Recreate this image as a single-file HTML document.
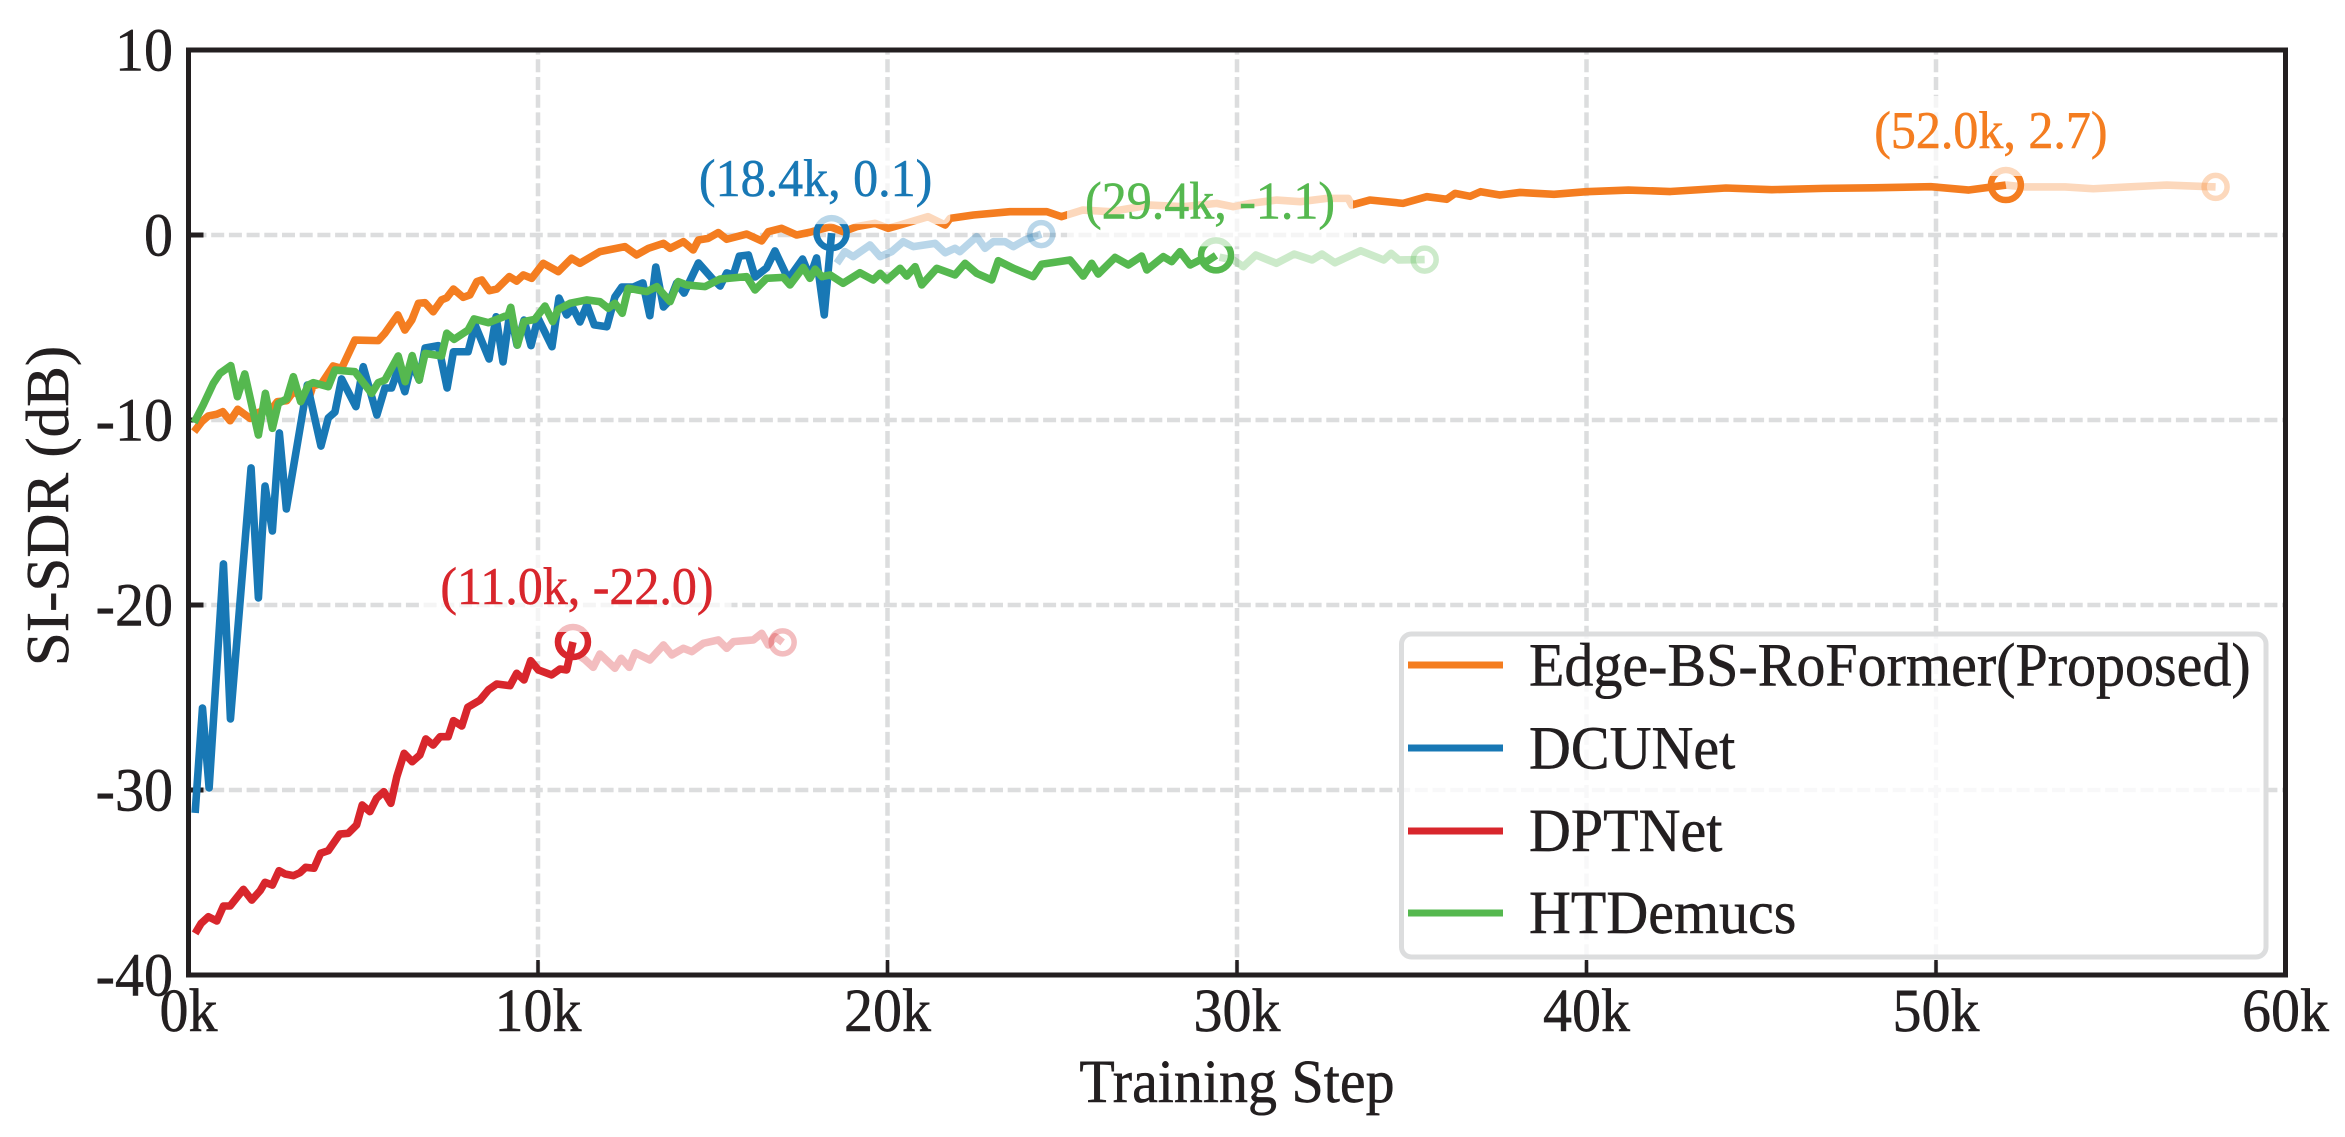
<!DOCTYPE html>
<html lang="en">
<head>
<meta charset="utf-8">
<title>SI-SDR vs Training Step</title>
<style>
  html, body { margin: 0; padding: 0; background: #fff; }
  body { width: 2345px; height: 1137px; overflow: hidden; }
  svg { display: block; font-family: "Liberation Serif", "Times New Roman", serif; text-rendering: geometricPrecision; }
  text { stroke-width: 0.5px; }
</style>
</head>
<body>
<svg id="chart" xmlns="http://www.w3.org/2000/svg" width="2345" height="1137" viewBox="0 0 2345 1137">
  <rect x="0" y="0" width="2345" height="1137" fill="#ffffff"/>
  <g id="grid"></g>
  <g id="ticks"></g>
  <g id="series"></g>
  <rect x="188.5" y="50" width="2097" height="925" fill="none" stroke="#231f20" stroke-width="5"/>
  <g id="annotations"></g>
  <g id="tick-labels" fill="#231f20" stroke="#231f20" font-size="58"></g>
  <text transform="translate(1237 1102) scale(1 1.06)" text-anchor="middle" font-size="58" fill="#231f20" stroke="#231f20">Training Step</text>
  <text transform="translate(68 506) rotate(-90)" text-anchor="middle" font-size="61" fill="#231f20" stroke="#231f20">SI-SDR (dB)</text>
  <g id="legend">
    <rect x="1401.5" y="634" width="864.5" height="323" rx="10" ry="10" fill="#ffffff" fill-opacity="0.8" stroke="#dcddde" stroke-width="5"/>
    <line x1="1408" x2="1503" y1="665" y2="665" stroke="#f47d20" stroke-width="7"/>
    <text transform="translate(1529 685.5) scale(1 1.06)" font-size="58" fill="#231f20" stroke="#231f20">Edge-BS-RoFormer(Proposed)</text>
    <line x1="1408" x2="1503" y1="748" y2="748" stroke="#1878b5" stroke-width="7"/>
    <text transform="translate(1529 768.5) scale(1 1.06)" font-size="58" fill="#231f20" stroke="#231f20">DCUNet</text>
    <line x1="1408" x2="1503" y1="831" y2="831" stroke="#d8262c" stroke-width="7"/>
    <text transform="translate(1529 851) scale(1 1.06)" font-size="58" fill="#231f20" stroke="#231f20">DPTNet</text>
    <line x1="1408" x2="1503" y1="913" y2="913" stroke="#55b84f" stroke-width="7"/>
    <text transform="translate(1529 933) scale(1 1.06)" font-size="58" fill="#231f20" stroke="#231f20">HTDemucs</text>
  </g>
</svg>
<script>
const xTickValues = [0, 10, 20, 30, 40, 50, 60];
const xTickLabels = ["0k", "10k", "20k", "30k", "40k", "50k", "60k"];
const yTickValues = [10, 0, -10, -20, -30, -40];
const yTickLabels = ["10", "0", "-10", "-20", "-30", "-40"];

const edgeSteps = [0.16,0.38,0.57,0.81,0.98,1.19,1.41,1.76,1.97,2.43,2.54,2.81,3.0,3.43,3.56,3.81,4.14,4.38,4.76,5.43,5.62,5.99,6.19,6.39,6.58,6.77,7.0,7.24,7.39,7.58,7.86,8.05,8.25,8.39,8.61,8.82,9.18,9.39,9.58,9.82,10.15,10.58,10.96,11.2,11.77,12.49,12.82,13.16,13.59,13.78,14.16,14.44,14.59,14.87,15.16,15.4,15.97,16.4,16.59,16.97,17.4,17.78,18.36,18.73,19.12,19.64,20.02,20.36,21.16,21.65,21.79,22.46,23.5,24.56,24.98,25.59,26.37,27.51,28.46,29.42,29.89,30.38,31.14,31.81,32.57,33.18,33.28,33.8,34.75,35.43,36.0,36.24,36.67,36.97,37.52,38.1,39.07,40.0,41.2,42.4,43.99,45.3,46.78,48.2,49.85,50.94,52.0];
const edgeValues = [-10.63,-10.09,-9.78,-9.69,-9.55,-10.04,-9.42,-9.91,-9.62,-9.28,-9.01,-8.96,-8.47,-8.92,-8.16,-8.02,-7.08,-7.21,-5.68,-5.71,-5.31,-4.32,-5.14,-4.59,-3.69,-3.66,-4.15,-3.51,-3.39,-2.92,-3.37,-3.24,-2.52,-2.43,-3.01,-2.92,-2.25,-2.49,-2.16,-2.34,-1.53,-1.98,-1.26,-1.53,-0.9,-0.63,-1.08,-0.72,-0.45,-0.72,-0.36,-0.81,-0.27,-0.18,0.13,-0.23,0.05,-0.32,0.18,0.36,0,0.15,0.45,0.18,0.45,0.63,0.36,0.54,0.99,0.54,0.9,1.08,1.26,1.26,0.99,1.35,1.26,1.62,1.53,1.71,1.53,1.71,1.89,1.8,1.98,1.98,1.62,1.89,1.71,2.07,1.93,2.25,2.09,2.34,2.16,2.3,2.2,2.34,2.43,2.35,2.54,2.45,2.52,2.55,2.61,2.43,2.7];
const edgeFadeSteps = [52.0,52.5,53.7,54.5,55.5,56.6,58.0];
const edgeFadeValues = [2.7,2.6,2.6,2.5,2.6,2.7,2.6];

const dcuSteps = [0.19,0.4,0.59,1.0,1.2,1.79,2.0,2.19,2.4,2.6,2.8,3.4,3.79,4.0,4.19,4.38,4.79,5.0,5.39,5.62,5.81,5.99,6.19,6.39,6.6,6.77,7.15,7.4,7.58,8.0,8.2,8.6,8.8,9.0,9.2,9.4,9.6,9.8,10.0,10.4,10.6,10.82,11.0,11.2,11.4,11.61,11.97,12.2,12.4,12.73,13.0,13.2,13.37,13.59,13.78,13.97,14.18,14.59,14.97,15.21,15.4,15.59,15.76,16.02,16.21,16.54,16.78,17.16,17.57,17.78,17.97,18.19,18.4];
const dcuValues = [-31.24,-25.57,-29.89,-17.78,-26.16,-12.59,-19.62,-13.57,-16.0,-10.7,-14.81,-8.11,-11.41,-9.89,-9.57,-7.78,-9.28,-7.12,-9.73,-8.27,-8.27,-7.3,-8.47,-6.92,-7.84,-6.11,-5.98,-8.27,-6.31,-6.31,-4.86,-6.7,-4.42,-6.86,-4.11,-5.95,-4.6,-5.98,-4.49,-6.04,-3.41,-4.32,-3.95,-4.7,-3.78,-4.86,-4.96,-3.35,-2.81,-2.81,-2.59,-4.36,-1.73,-3.89,-3.51,-2.59,-3.14,-1.51,-2.32,-2.76,-2.05,-2.16,-1.14,-1.08,-2.27,-1.78,-0.86,-2.38,-1.3,-2.27,-1.24,-4.32,0.1];
const dcuFadeSteps = [18.55,18.78,19.02,19.5,19.79,20.12,20.45,20.74,21.36,21.65,21.93,22.07,22.55,22.79,23.03,23.36,23.6,23.93,24.4];
const dcuFadeValues = [-1.53,-0.9,-1.17,-0.54,-1.17,-0.9,-0.36,-0.63,-0.45,-0.96,-0.72,-0.9,-0.09,-0.72,-0.36,-0.36,-0.63,-0.27,0.05];

const dptSteps = [0.19,0.36,0.57,0.81,1.0,1.19,1.57,1.81,2.05,2.19,2.4,2.59,2.76,3.0,3.19,3.35,3.59,3.78,4.0,4.33,4.57,4.81,4.97,5.19,5.38,5.59,5.79,5.96,6.17,6.4,6.62,6.79,7.0,7.2,7.43,7.58,7.82,7.99,8.34,8.58,8.82,9.2,9.39,9.6,9.79,10.01,10.39,10.63,10.82,11.0];
const dptValues = [-37.75,-37.21,-36.85,-37.08,-36.27,-36.27,-35.37,-35.95,-35.44,-34.99,-35.14,-34.36,-34.54,-34.63,-34.47,-34.18,-34.23,-33.42,-33.28,-32.38,-32.34,-31.89,-30.81,-31.17,-30.45,-30.09,-30.72,-29.28,-28.02,-28.47,-28.11,-27.24,-27.57,-27.12,-27.12,-26.25,-26.54,-25.53,-25.14,-24.59,-24.27,-24.36,-23.69,-24.05,-23.01,-23.51,-23.78,-23.46,-23.51,-22.0];
const dptFadeSteps = [11.15,11.35,11.58,11.77,12.2,12.38,12.61,12.78,13.2,13.59,13.83,14.16,14.4,14.73,15.16,15.4,15.59,16.16,16.4,16.59,16.78,17.0];
const dptFadeValues = [-22.7,-22.97,-23.37,-22.65,-23.42,-22.88,-23.37,-22.58,-22.97,-22.16,-22.7,-22.34,-22.52,-22.07,-21.89,-22.34,-21.98,-21.89,-21.53,-22.16,-21.71,-22.02];

const htdSteps = [0.16,0.42,0.71,0.9,1.21,1.4,1.61,2.0,2.2,2.4,2.57,2.81,3.0,3.21,3.43,3.57,4.0,4.19,4.76,5.24,5.43,5.62,6.0,6.2,6.4,6.6,6.77,7.24,7.39,7.6,8.0,8.17,8.58,9.15,9.22,9.41,9.6,9.91,10.2,10.42,10.58,10.92,11.39,11.77,12.01,12.2,12.41,12.58,13.11,13.4,13.78,14.01,14.25,14.78,15.21,15.97,16.21,16.54,17.02,17.21,17.59,17.78,17.93,18.12,18.36,18.73,19.21,19.59,19.79,19.98,20.36,20.55,20.79,20.98,21.41,21.93,22.22,22.55,22.98,23.17,23.6,24.17,24.41,25.22,25.6,25.84,26.03,26.51,26.89,27.27,27.42,27.89,28.13,28.37,28.66,28.94,29.13,29.4];
const htdValues = [-10.14,-9.19,-8.02,-7.48,-7.06,-8.74,-7.51,-10.81,-8.56,-10.45,-9.1,-8.86,-7.66,-9.01,-8.11,-7.98,-8.2,-7.3,-7.39,-8.56,-7.98,-7.84,-6.54,-7.93,-6.52,-7.84,-6.4,-6.54,-5.31,-5.64,-5.14,-4.54,-4.74,-4.32,-3.91,-5.95,-4.68,-4.56,-3.84,-4.68,-4.02,-3.69,-3.51,-3.6,-3.96,-3.69,-4.23,-2.88,-3.06,-2.79,-3.6,-2.52,-2.7,-2.79,-2.38,-2.25,-2.97,-2.34,-2.29,-2.7,-1.75,-2.34,-1.85,-2.25,-2.16,-2.61,-2.04,-2.43,-2.07,-2.43,-1.8,-2.22,-1.71,-2.7,-1.8,-2.16,-1.53,-2.07,-2.43,-1.39,-1.8,-2.25,-1.58,-1.35,-2.22,-1.53,-2.11,-1.21,-1.62,-1.14,-1.89,-1.17,-1.44,-0.9,-1.62,-1.35,-1.44,-1.1];
const htdFadeSteps = [29.5,29.89,30.18,30.54,31.13,31.64,32.15,32.43,32.8,33.54,34.2,34.41,34.63,35.37];
const htdFadeValues = [-1.2,-1.35,-1.71,-1.08,-1.53,-1.03,-1.35,-1.03,-1.5,-0.85,-1.35,-0.99,-1.35,-1.33];

const annotationLabels = ["(52.0k, 2.7)", "(18.4k, 0.1)", "(11.0k, -22.0)", "(29.4k, -1.1)"];

const SVGNS = "http://www.w3.org/2000/svg";
const plotLeft = 188.5, plotRight = 2285.5, plotTop = 50, plotBottom = 975;
const xMin = 0, xMax = 60, yMin = -40, yMax = 10;
const lineWidth = 7.6;
const textStretch = 1.06;
function xScale(v) { return plotLeft + (v - xMin) / (xMax - xMin) * (plotRight - plotLeft); }
function yScale(v) { return plotBottom - (v - yMin) / (yMax - yMin) * (plotBottom - plotTop); }
function make(tag, attrs) {
  const el = document.createElementNS(SVGNS, tag);
  for (const k in attrs) el.setAttribute(k, attrs[k]);
  return el;
}
function placeAt(x, y) { return "translate(" + x + " " + y + ") scale(1 " + textStretch + ")"; }
function pathFrom(steps, values) {
  return steps.map((s, i) => (i ? "L" : "M") + xScale(s).toFixed(2) + " " + yScale(values[i]).toFixed(2)).join(" ");
}

const gridGroup = document.getElementById("grid");
const tickGroup = document.getElementById("ticks");
const labelGroup = document.getElementById("tick-labels");
const gridStyle = { stroke: "#dcddde", "stroke-width": 4.5, "stroke-dasharray": "13 4.7" };

xTickValues.forEach((v, i) => {
  const x = xScale(v);
  if (i > 0 && i < xTickValues.length - 1) {
    const g = make("line", Object.assign({ x1: x, x2: x, y1: plotBottom, y2: plotTop }, gridStyle));
    
    
    gridGroup.appendChild(g);
    const t = make("line", { x1: x, x2: x, y1: plotBottom, y2: plotBottom - 15, stroke: "#231f20", "stroke-width": 3.5 });
    
    
    tickGroup.appendChild(t);
  }
  const lab = make("text", { transform: placeAt(x, 1031), "text-anchor": "middle" });
  lab.textContent = xTickLabels[i];
  
  
  labelGroup.appendChild(lab);
});

yTickValues.forEach((v, i) => {
  const y = yScale(v);
  if (i > 0 && i < yTickValues.length - 1) {
    const g = make("line", Object.assign({ x1: plotLeft, x2: plotRight, y1: y, y2: y, "stroke-dashoffset": -5 }, gridStyle));
    
    
    gridGroup.appendChild(g);
    const t = make("line", { x1: plotLeft, x2: plotLeft + 15, y1: y, y2: y, stroke: "#231f20", "stroke-width": 5 });
    
    
    tickGroup.appendChild(t);
  }
  const lab = make("text", { transform: placeAt(173, y + 20.5), "text-anchor": "end" });
  lab.textContent = yTickLabels[i];
  
  
  labelGroup.appendChild(lab);
});

const seriesList = [
  { id: "edge-bs-roformer", color: "#f47d20", steps: edgeSteps, values: edgeValues, fadeSteps: edgeFadeSteps, fadeValues: edgeFadeValues, label: annotationLabels[0], dx: -15, dy: -37 },
  { id: "dcunet", color: "#1878b5", steps: dcuSteps, values: dcuValues, fadeSteps: dcuFadeSteps, fadeValues: dcuFadeValues, label: annotationLabels[1], dx: -16, dy: -37 },
  { id: "dptnet", color: "#d8262c", steps: dptSteps, values: dptValues, fadeSteps: dptFadeSteps, fadeValues: dptFadeValues, label: annotationLabels[2], dx: 4, dy: -38 },
  { id: "htdemucs", color: "#55b84f", steps: htdSteps, values: htdValues, fadeSteps: htdFadeSteps, fadeValues: htdFadeValues, label: annotationLabels[3], dx: -6, dy: -37 }
];

const seriesGroup = document.getElementById("series");
const annotationGroup = document.getElementById("annotations");

seriesList.forEach(s => {
  const fade = make("path", { d: pathFrom(s.fadeSteps, s.fadeValues), fill: "none", stroke: s.color, "stroke-width": lineWidth, "stroke-opacity": 0.3, "stroke-linejoin": "round" });
  
  
  seriesGroup.appendChild(fade);

  const lastFade = s.fadeSteps.length - 1;
  const endMark = make("circle", { cx: xScale(s.fadeSteps[lastFade]), cy: yScale(s.fadeValues[lastFade]), r: 11.5, fill: "none", stroke: s.color, "stroke-width": 5.5, "stroke-opacity": 0.3 });
  
  
  seriesGroup.appendChild(endMark);
});

seriesList.forEach(s => {
  const line = make("path", { d: pathFrom(s.steps, s.values), fill: "none", stroke: s.color, "stroke-width": lineWidth, "stroke-linejoin": "round" });
  
  
  seriesGroup.appendChild(line);
});

seriesList.forEach(s => {
  const last = s.steps.length - 1;
  const bx = xScale(s.steps[last]);
  const by = yScale(s.values[last]);
  const mark = make("circle", { cx: bx, cy: by, r: 15, fill: "none", stroke: s.color, "stroke-width": 6.5 });
  
  
  seriesGroup.appendChild(mark);

  const tx = bx + s.dx;
  const ty = by + s.dy;
  const box = make("rect", { y: ty - 52, height: 80, rx: 6, ry: 6, fill: "#ffffff", "fill-opacity": 0.7 });
  
  
  annotationGroup.appendChild(box);
  const text = make("text", { transform: placeAt(tx, ty), "text-anchor": "middle", "font-size": 50, fill: s.color, stroke: s.color });
  text.textContent = s.label;
  
  
  annotationGroup.appendChild(text);
  const w = text.getComputedTextLength() + 36;
  box.setAttribute("x", tx - w / 2);
  box.setAttribute("width", w);
});
</script>
</body>
</html>
